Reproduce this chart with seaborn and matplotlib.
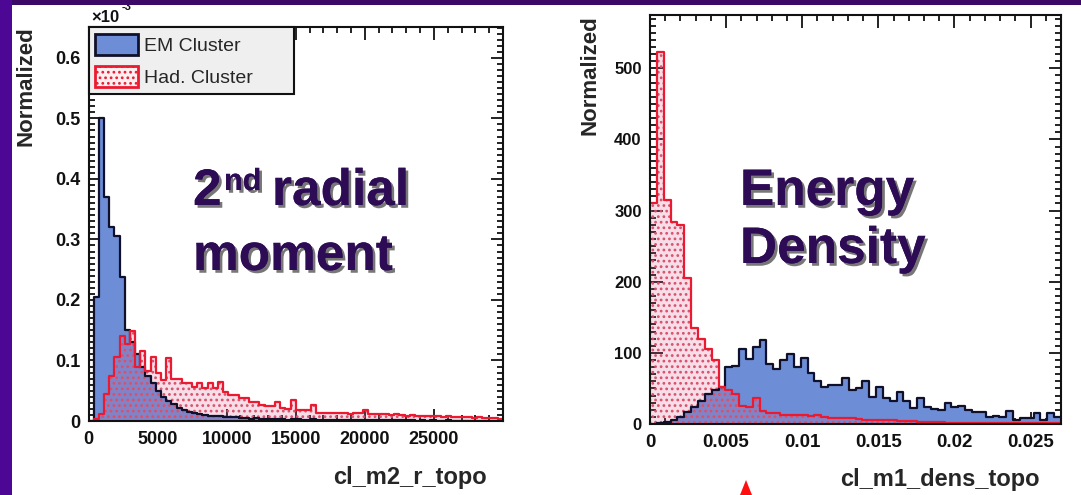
import numpy as np
import pandas as pd
import matplotlib
matplotlib.use("Agg")
import matplotlib.pyplot as plt
import matplotlib.patheffects as pe
from matplotlib.patches import Patch, Rectangle, Polygon
from matplotlib.ticker import MultipleLocator, FixedLocator, FuncFormatter
import seaborn as sns

# ---- data ----
# left: cl_m2_r_topo, 80 bins of 375 between 0 and 30000 (values x1e-3)
m2_edges = np.linspace(0, 30000, 81)
m2_em = [0.0, 0.205, 0.50, 0.37, 0.32, 0.305, 0.238, 0.15, 0.13, 0.11,
         0.09, 0.075, 0.062, 0.05, 0.04, 0.033, 0.028, 0.022, 0.018, 0.015,
         0.013, 0.012, 0.010, 0.009, 0.008, 0.008, 0.007, 0.006, 0.006, 0.005,
         0.005, 0.004, 0.005, 0.003, 0.004, 0.003, 0.003, 0.004, 0.002, 0.003,
         0.003, 0.002, 0.002, 0.003, 0.002, 0.002, 0.002, 0.001, 0.002, 0.002,
         0.001, 0.002, 0.001, 0.001, 0.002, 0.001, 0.001, 0.001, 0.001, 0.001,
         0.001, 0.001, 0.001, 0.0005, 0.001, 0.0005, 0.001, 0.0005, 0.0005, 0.001,
         0.0005, 0.0005, 0.0005, 0.0005, 0.0005, 0.0005, 0.0, 0.0005, 0.0, 0.0]
m2_had = [0.0, 0.003, 0.012, 0.045, 0.075, 0.105, 0.140, 0.128, 0.148, 0.09,
          0.115, 0.083, 0.105, 0.08, 0.068, 0.104, 0.07, 0.07, 0.062, 0.062,
          0.056, 0.063, 0.055, 0.062, 0.055, 0.064, 0.048, 0.043, 0.043, 0.038,
          0.038, 0.032, 0.032, 0.027, 0.024, 0.024, 0.032, 0.022, 0.02, 0.034,
          0.018, 0.018, 0.018, 0.026, 0.014, 0.014, 0.014, 0.013, 0.014, 0.013,
          0.012, 0.014, 0.013, 0.018, 0.012, 0.012, 0.011, 0.012, 0.010, 0.011,
          0.010, 0.009, 0.010, 0.009, 0.008, 0.009, 0.008, 0.008, 0.007, 0.008,
          0.007, 0.006, 0.007, 0.006, 0.005, 0.006, 0.005, 0.005, 0.005, 0.004]

# right: cl_m1_dens_topo, 60 bins of 0.00045 between 0 and 0.027
dens_edges = np.linspace(0, 0.027, 61)
dens_em = [0, 1, 3, 6, 10, 17, 24, 32, 42, 48,
           52, 80, 82, 106, 92, 108, 118, 85, 78, 90,
           99, 80, 93, 72, 60, 52, 55, 55, 64, 48,
           50, 60, 38, 52, 36, 33, 45, 33, 22, 36,
           24, 21, 20, 29, 24, 26, 20, 17, 17, 10,
           11, 10, 18, 6, 8, 8, 15, 6, 15, 10]
dens_had = [310, 523, 315, 284, 280, 205, 135, 120, 105, 90,
            52, 48, 42, 26, 24, 36, 18, 16, 15, 12,
            13, 12, 12, 11, 13, 10, 9, 9, 8, 8,
            7, 6, 6, 5, 5, 5, 4, 4, 4, 3,
            3, 3, 3, 2, 2, 2, 2, 2, 2, 2,
            1, 1, 1, 1, 1, 1, 1, 1, 1, 1]

legend_labels = ["EM Cluster", "Had. Cluster"]

# ---- style ----
EM_BLUE = "#6d8ed6"
EM_LINE = "#10102a"
HAD_FACE = (0.85, 0.35, 0.55, 0.2)
HAD_DOTS = "#d8506a"
HAD_LINE = "#ec1a30"
TITLE_COL = "#2d0b55"

sns.set_style("ticks")
plt.rcParams["font.family"] = ["Liberation Sans", "DejaVu Sans"]
plt.rcParams["hatch.color"] = HAD_DOTS
plt.rcParams["hatch.linewidth"] = 1.2

W, H = 1081, 495
fig = plt.figure(figsize=(W / 100, H / 100), dpi=100)
fig.patch.set_facecolor("white")


def px(x, y):
    return x / W, 1 - y / H


def draw_hists(ax, edges, em, had):
    centers = (edges[:-1] + edges[1:]) / 2
    df = pd.DataFrame({"x": centers, "em": em, "had": had})
    bins = list(edges)  # a list, so seaborn's "auto" check does not hit numpy
    sns.histplot(data=df, x="x", weights="em", bins=bins, element="step", fill=True,
                 facecolor=EM_BLUE, edgecolor=EM_BLUE, linewidth=0, ax=ax)
    sns.histplot(data=df, x="x", weights="had", bins=bins, element="step", fill=True,
                 facecolor=HAD_FACE, edgecolor=HAD_DOTS, hatch="...", linewidth=0, ax=ax)
    sns.histplot(data=df, x="x", weights="em", bins=bins, element="step", fill=False,
                 color=EM_LINE, linewidth=1.6, ax=ax)
    sns.histplot(data=df, x="x", weights="had", bins=bins, element="step", fill=False,
                 color=HAD_LINE, linewidth=1.6, ax=ax)


def style_axes(ax, xlim, ylim, xmaj, xmin, ymaj, ymin, xsize, ysize):
    ax.set_xlim(*xlim)
    ax.set_ylim(*ylim)
    ax.xaxis.set_major_locator(FixedLocator(xmaj))
    ax.xaxis.set_minor_locator(MultipleLocator(xmin))
    ax.yaxis.set_major_locator(FixedLocator(ymaj))
    ax.yaxis.set_minor_locator(MultipleLocator(ymin))
    fmt = FuncFormatter(lambda v, p: f"{v:g}")
    ax.xaxis.set_major_formatter(fmt)
    ax.yaxis.set_major_formatter(fmt)
    ax.tick_params(which="both", direction="in", top=True, right=True,
                   color="#111111", width=1.3)
    ax.tick_params(which="major", length=9)
    ax.tick_params(which="minor", length=4.5)
    ax.tick_params(axis="x", labelsize=xsize, pad=7)
    ax.tick_params(axis="y", labelsize=ysize, pad=6)
    for lab in ax.get_xticklabels() + ax.get_yticklabels():
        lab.set_fontweight("bold")
        lab.set_color("#111111")
    for s in ax.spines.values():
        s.set_linewidth(1.5)
        s.set_color("#111111")
    ax.set_facecolor("white")


# ---- left panel ----
ax1 = fig.add_axes([88.5 / W, 1 - 421 / H, 414.5 / W, 394 / H])
draw_hists(ax1, m2_edges, m2_em, m2_had)
style_axes(ax1, (0, 30000), (0, 0.651),
           [0, 5000, 10000, 15000, 20000, 25000], 1000,
           [0, 0.1, 0.2, 0.3, 0.4, 0.5, 0.6], 0.01, 13, 13)
ax1.set_xlabel("cl_m2_r_topo", fontsize=17, fontweight="bold", ha="right", va="top")
ax1.xaxis.set_label_coords((487 - 88.5) / 414.5, -(466 - 421) / 394)
ax1.set_ylabel("Normalized", fontsize=16, fontweight="bold", ha="center", va="top",
               rotation_mode="default")
ax1.yaxis.set_label_coords(-(88.5 - 26) / 414.5, 1 + 1 / 394)

handles = [Patch(facecolor=EM_BLUE, edgecolor=EM_LINE, linewidth=2),
           Patch(facecolor="#fdeef0", edgecolor=HAD_LINE, hatch="...", linewidth=2)]
leg = ax1.legend(handles, legend_labels, loc="upper left",
                 bbox_to_anchor=(0, 0.8, 205 / 414.5, 0.2), mode="expand",
                 borderaxespad=0, fancybox=False, framealpha=1,
                 facecolor="#efefef", edgecolor="#111111", fontsize=14,
                 handlelength=2.2, handleheight=1.3, handletextpad=0.3,
                 labelspacing=0.55, borderpad=0.35)
leg.get_frame().set_linewidth(1.5)
leg.set_zorder(10)

# ---- right panel ----
ax2 = fig.add_axes([650 / W, 1 - 424 / H, 411 / W, 409 / H])
draw_hists(ax2, dens_edges, dens_em, dens_had)
style_axes(ax2, (0, 0.027), (0, 575),
           [0, 0.005, 0.01, 0.015, 0.02, 0.025], 0.001,
           [0, 100, 200, 300, 400, 500], 10, 13.5, 12)
ax2.set_xlabel("cl_m1_dens_topo", fontsize=17, fontweight="bold", ha="right", va="top")
ax2.xaxis.set_label_coords((1040 - 650) / 411, -(468 - 424) / 409)
ax2.set_ylabel("Normalized", fontsize=16, fontweight="bold", ha="center", va="top",
               rotation_mode="default")
ax2.yaxis.set_label_coords(-(650 - 590) / 411, 1)

# ---- slide annotations ----
shadow = [pe.withSimplePatchShadow(offset=(2, -2), shadow_rgbFace="#555555", alpha=0.8),
          pe.Normal()]
big = dict(fontsize=37, fontweight="bold", color=TITLE_COL, ha="left", va="baseline",
           path_effects=shadow, zorder=12)
fig.text(*px(193, 205), "2", **big)
fig.text(*px(224, 190), "nd", **{**big, "fontsize": 22})
fig.text(*px(272, 205), "radial", **big)
fig.text(*px(193, 270), "moment", **big)
fig.text(*px(740, 205), "Energy", **big)
fig.text(*px(740, 263), "Density", **big)

fig.text(*px(91, 22), "\u00d710", fontsize=12, fontweight="bold", color="#111111",
         ha="left", va="baseline")
fig.text(*px(122, 10), "-3", fontsize=8, fontweight="bold", color="#111111",
         ha="left", va="baseline")

# purple slide border and the arrow tip below the right panel
fig.add_artist(Rectangle((0, 1 - 5 / H), 1, 5 / H, transform=fig.transFigure,
                         facecolor="#3c0a66", edgecolor="none", zorder=20))
fig.add_artist(Rectangle((0, 0), 12 / W, 1, transform=fig.transFigure,
                         facecolor="#4c0894", edgecolor="none", zorder=20))
fig.add_artist(Polygon([px(740, 495), px(752, 495), px(746, 480)], closed=True,
                       transform=fig.transFigure, facecolor="#ff1010",
                       edgecolor="none", zorder=20))

fig.savefig("out.png", dpi=100)
